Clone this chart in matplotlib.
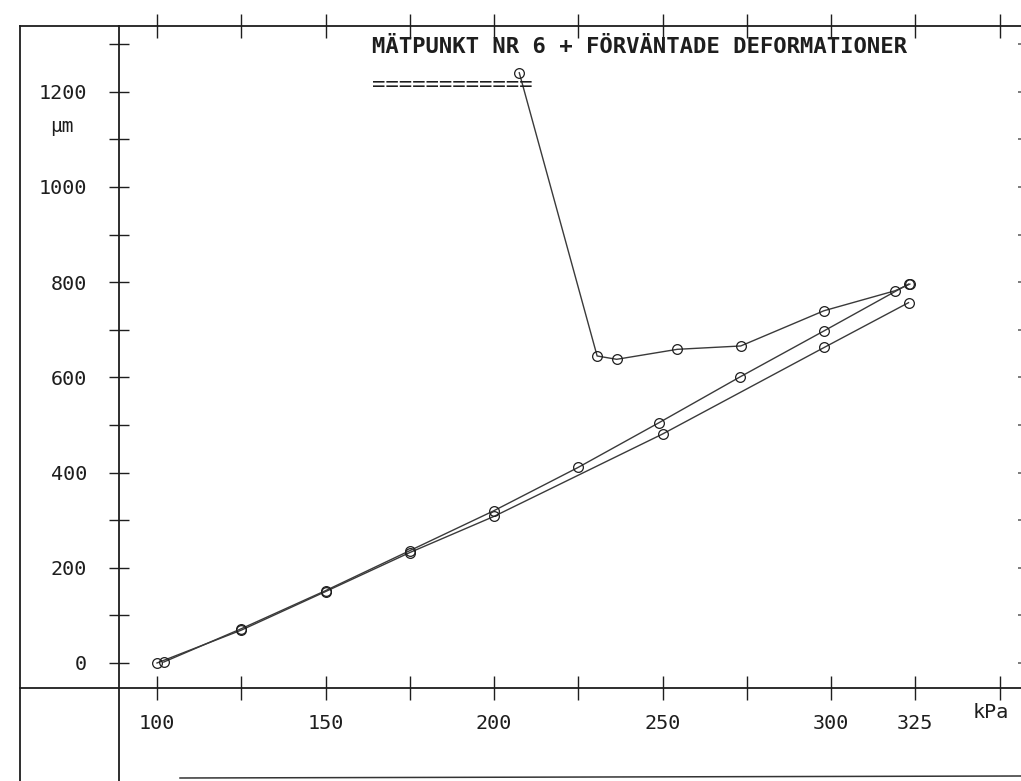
import matplotlib
matplotlib.use('Agg')
import matplotlib.pyplot as plt
from matplotlib.lines import Line2D
from matplotlib.ticker import FixedLocator, FixedFormatter

# ---------------- data ----------------
loading_kpa = [100, 125, 150, 175, 200, 250, 298, 323]
loading_um = [0, 69, 150, 232, 308, 481, 663, 757]

unloading_kpa = [323, 298, 273, 249, 225, 200, 175, 150, 125, 102]
unloading_um = [796, 698, 601, 505, 411, 320, 236, 152, 72, 2]

expected_kpa = [207.5, 230.6, 236.4, 254.4, 273.2, 297.9, 319, 323.4]
expected_um = [1240, 645, 638, 659, 666, 740, 782, 796]

x_ticks = [100, 125, 150, 175, 200, 225, 250, 275, 300, 325, 350]
x_tick_labels = ['100', '', '150', '', '200', '', '250', '', '300', '325', '']
y_ticks = [0, 200, 400, 600, 800, 1000, 1200]
y_tick_labels = ['0', '200', '400', '600', '800', '1000', '1200']
y_minor_ticks = [100, 300, 500, 700, 900, 1100, 1300]

title = 'MÄTPUNKT NR 6 + FÖRVÄNTADE DEFORMATIONER'
title_underline = '============'
x_unit = 'kPa'
y_unit = 'µm'

# ---------------- layout (pixels) ----------------
W, H = 1021, 781
AX_L = 119      # y-axis pixel x
AX_B = 688      # x-axis pixel y (from top)
AX_T = 26       # top frame pixel y
PX_X100 = 157   # pixel x of 100 kPa
PX_PER_KPA = 3.37
PY_0 = 663      # pixel y of 0 um
PX_PER_UM = 0.476

MONO = ['DejaVu Sans Mono']
INK = '#1e1e1e'

fig = plt.figure(figsize=(W / 100, H / 100), dpi=100)
fig.patch.set_facecolor('white')
ax = fig.add_axes([AX_L / W, 1 - AX_B / H, (W - AX_L) / W, (AX_B - AX_T) / H])
ax.set_facecolor('none')

xmin = 100 + (AX_L - PX_X100) / PX_PER_KPA
xmax = 100 + (W - PX_X100) / PX_PER_KPA
ymin = (PY_0 - AX_B) / PX_PER_UM
ymax = (PY_0 - AX_T) / PX_PER_UM
ax.set_xlim(xmin, xmax)
ax.set_ylim(ymin, ymax)

# curves
line_kw = dict(color='#3a3a3a', lw=1.0, marker='o', ms=7, mfc='none',
               mec=INK, mew=0.9, clip_on=False)
ax.plot(loading_kpa, loading_um, **line_kw)
ax.plot(unloading_kpa, unloading_um, **line_kw)
ax.plot(expected_kpa, expected_um, **line_kw)

# spines
for s in ['left', 'bottom', 'top']:
    ax.spines[s].set_color(INK)
    ax.spines[s].set_linewidth(1.3)
ax.spines['right'].set_visible(False)

# x ticks
ax.xaxis.set_major_locator(FixedLocator(x_ticks))
ax.xaxis.set_major_formatter(FixedFormatter(x_tick_labels))
ax.tick_params(axis='x', which='major', direction='inout', length=17, width=1.0,
               color=INK, top=True, bottom=True, labeltop=False, pad=10,
               labelsize=14.5, labelcolor=INK)

# y ticks
ax.yaxis.set_major_locator(FixedLocator(y_ticks))
ax.yaxis.set_major_formatter(FixedFormatter(y_tick_labels))
ax.yaxis.set_minor_locator(FixedLocator(y_minor_ticks))
ax.tick_params(axis='y', which='both', direction='inout', length=14, width=1.0,
               color=INK, left=True, right=False, pad=16, labelsize=14.5,
               labelcolor=INK)

for lbl in ax.get_xticklabels() + ax.get_yticklabels():
    lbl.set_family(MONO)

# faint right-edge ticks (cut off by the page edge)
ax_r = ax.twinx()
ax_r.set_ylim(ymin, ymax)
ax_r.yaxis.set_major_locator(FixedLocator(sorted(y_ticks + y_minor_ticks)))
ax_r.tick_params(axis='y', direction='in', length=2.5, width=1.2,
                 color='#666666', labelright=False)
for s in ax_r.spines.values():
    s.set_visible(False)

# frame extensions
def fig_line(x0, y0, x1, y1, lw=1.3, color=INK):
    fig.add_artist(Line2D([x0 / W, x1 / W], [1 - y0 / H, 1 - y1 / H],
                          lw=lw, color=color))

fig_line(20, AX_T, 20, H)            # outer left border
fig_line(20, AX_T, AX_L, AX_T)       # top border to the left
fig_line(20, AX_B, AX_L, AX_B)       # x axis to the left
fig_line(AX_L, AX_B, AX_L, H)        # y axis downwards
fig_line(180, 778, W, 776, lw=1.1, color='#333333')  # bottom border

# texts
fig.text(372 / W, 1 - 47 / H, title, family=MONO, fontsize=16.0, color=INK,
         weight='bold', ha='left', va='center')
fig.text(372 / W, 1 - 85 / H, title_underline, family=MONO, fontsize=16.0,
         color=INK, ha='left', va='center')
fig.text(991 / W, 1 - 712 / H, x_unit, family=MONO, fontsize=14.5, color=INK,
         ha='center', va='center')
fig.text(62 / W, 1 - 127 / H, y_unit, family=MONO, fontsize=14, color=INK,
         ha='center', va='center')

fig.savefig('out.png', dpi=100, facecolor='white')
